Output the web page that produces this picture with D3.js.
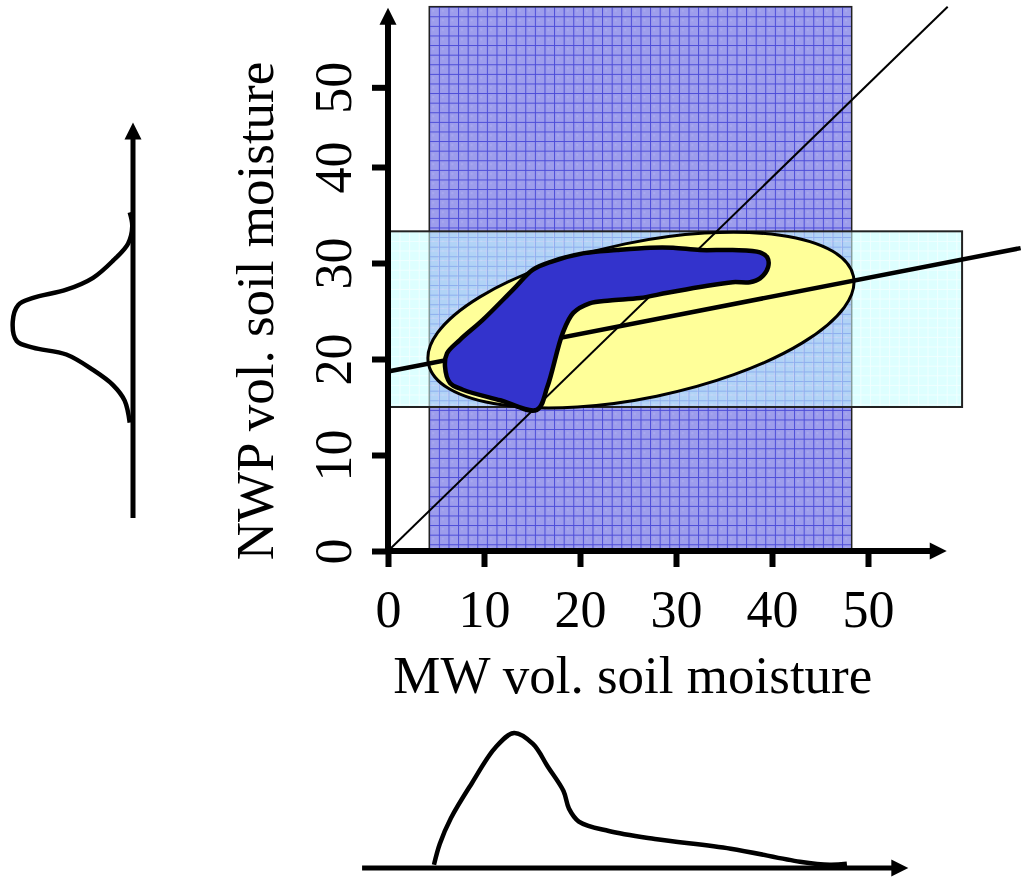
<!DOCTYPE html>
<html>
<head>
<meta charset="utf-8">
<script src="https://cdn.jsdelivr.net/npm/d3@7"></script>
<style>
    body { margin: 0; background: #fff; }
    svg { display: block; }
</style>
</head>
<body>
<div id="chart"></div>
<script>
let width = 1021, height = 879;
let serif = '"Liberation Serif", "Times New Roman", serif';

// main axes
let xTicks = [0, 10, 20, 30, 40, 50];
let yTickVals = [0, 10, 20, 30, 40, 48.3];
let yTickLabels = ['0', '10', '20', '30', '40', '50'];
let xAxisEnd = 58.2;
let yAxisEnd = 56.6;

// MW range (vertical band) and NWP range (horizontal band)
let mwRange = [4.3, 48.3];
let mwTop = 56.7;
let nwpRange = [15, 33.3];
let nwpX = [0.2, 59.8];

// joint distribution ellipse: centre, semi-axes, tilt (deg)
let ellipseCenter = [26.35, 24.06];
let ellipseAxes = [22.6, 8.1];
let ellipseAngle = 11.65;

// regression line and 1:1 line
let regLine = [[0, 18.7], [65.9, 31.55]];
let oneToOne = [[0, 0], [58.3, 56.7]];

// dark blue joint region (MW, NWP)
let blob = [
    [6.15, 20.6], [5.94, 19.2], [6.46, 17.5], [7.8, 16.8], [11.7, 15.7], [15.5, 14.7],
    [16.6, 17.1], [18.2, 22.7], [19.3, 24.8], [21.0, 25.8], [23.1, 26.1], [26.25, 26.35],
    [29.1, 26.9], [32.5, 27.5], [35.9, 28.0], [37.7, 28.0], [38.75, 28.4], [39.6, 29.6],
    [39.5, 30.6], [38.75, 31.1], [35.9, 31.35], [32.5, 31.35], [29.7, 31.6], [27.3, 31.6],
    [23.85, 31.35], [20.3, 31.0], [16.9, 30.1], [15.1, 29.3], [13.0, 27.2], [9.9, 24.1],
    [7.5, 22.0]
];

// marginal pdfs: [moisture, relative density]
let mwDensity = [
    [4.79, 0.024], [5.39, 0.178], [6.56, 0.37], [8.75, 0.63], [11.15, 0.889], [13.13, 1.0],
    [15.1, 0.919], [16.67, 0.748], [18.28, 0.57], [18.85, 0.44], [19.88, 0.344], [23.0, 0.274],
    [27.8, 0.215], [35.7, 0.143], [42.9, 0.047], [46.0, 0.024], [47.8, 0.031]
];
let mwAxisRange = [-2.7, 54.2];

let nwpDensity = [
    [31.84, 0.027], [30.4, 0.006], [28.57, 0.041], [26.8, 0.165], [25.02, 0.33], [23.78, 0.551],
    [22.92, 0.826], [22.19, 0.948], [20.42, 0.994], [18.44, 0.961], [17.74, 0.826], [17.03, 0.551],
    [15.42, 0.33], [13.85, 0.165], [12.23, 0.069], [9.93, 0.027]
];
let nwpAxisRange = [0, 41.2];

let svg = d3.select('#chart').append('svg').attr('width', width).attr('height', height);

let x = d3.scaleLinear().domain([0, 50]).range([388, 868]);
let y = d3.scaleLinear().domain([0, 50]).range([551, 71]);

// marginal scales
let bDens = d3.scaleLinear().domain([0, 1]).range([868, 733]);
let lY = d3.scaleLinear().domain([0, 41.25]).range([518, 122]);
let lDens = d3.scaleLinear().domain([0, 1]).range([133, 12]);

// hatch patterns
let cell = x(1) - x(0);
let defs = svg.append('defs');
let pBlue = defs.append('pattern')
    .attr('id', 'gridBlue')
    .attr('patternUnits', 'userSpaceOnUse')
    .attr('x', x(mwRange[0])).attr('y', y(mwTop))
    .attr('width', cell).attr('height', cell);
pBlue.append('rect').attr('width', cell).attr('height', cell).attr('fill', '#9d9dec');
pBlue.append('rect').attr('x', 3).attr('y', 3).attr('width', 2).attr('height', 2).attr('fill', '#a9a9f0');
pBlue.append('path')
    .attr('d', 'M0,0.5H' + cell + 'M0.5,0V' + cell)
    .attr('stroke', '#4b4bd8').attr('stroke-width', 1);

let pCyan = defs.append('pattern')
    .attr('id', 'gridCyan')
    .attr('patternUnits', 'userSpaceOnUse')
    .attr('x', x(nwpX[0])).attr('y', y(nwpRange[1]))
    .attr('width', cell).attr('height', cell);
pCyan.append('rect').attr('width', cell).attr('height', cell).attr('fill', '#c1ffff');
pCyan.append('path')
    .attr('d', 'M0,0.5H' + cell + 'M0.5,0V' + cell)
    .attr('stroke', '#e4ffff').attr('stroke-width', 1);

// MW band
svg.append('rect')
    .attr('x', x(mwRange[0]))
    .attr('y', y(mwTop))
    .attr('width', x(mwRange[1]) - x(mwRange[0]))
    .attr('height', y(0) - y(mwTop))
    .attr('fill', 'url(#gridBlue)')
    .attr('stroke', '#222')
    .attr('stroke-width', 1.5);

// NWP band
svg.append('rect')
    .attr('x', x(nwpX[0]))
    .attr('y', y(nwpRange[1]))
    .attr('width', x(nwpX[1]) - x(nwpX[0]))
    .attr('height', y(nwpRange[0]) - y(nwpRange[1]))
    .attr('fill', 'url(#gridCyan)')
    .attr('fill-opacity', 0.55)
    .attr('stroke', '#222')
    .attr('stroke-width', 2);

// ellipse
let ecx = x(ellipseCenter[0]), ecy = y(ellipseCenter[1]);
svg.append('ellipse')
    .attr('cx', ecx)
    .attr('cy', ecy)
    .attr('rx', x(ellipseAxes[0]) - x(0))
    .attr('ry', y(0) - y(ellipseAxes[1]))
    .attr('transform', 'rotate(' + (-ellipseAngle) + ',' + ecx + ',' + ecy + ')')
    .attr('fill', '#ffff99')
    .attr('stroke', '#000')
    .attr('stroke-width', 3);

let line = d3.line()
    .x(function(d) { return x(d[0]); })
    .y(function(d) { return y(d[1]); });

svg.append('path').attr('d', line(oneToOne))
    .attr('stroke', '#000').attr('stroke-width', 2).attr('fill', 'none');
svg.append('path').attr('d', line(regLine))
    .attr('stroke', '#000').attr('stroke-width', 4.5).attr('fill', 'none');

// joint region
svg.append('path')
    .attr('d', line.curve(d3.curveCatmullRomClosed.alpha(0.5))(blob))
    .attr('fill', '#3333cc')
    .attr('stroke', '#000')
    .attr('stroke-width', 4.5)
    .attr('stroke-linejoin', 'round');

function arrow(p0, p1, w, head) {
    let dx = p1[0] - p0[0], dy = p1[1] - p0[1];
    let len = Math.hypot(dx, dy), ux = dx / len, uy = dy / len;
    let bx = p1[0] - ux * head, by = p1[1] - uy * head;
    svg.append('line')
        .attr('x1', p0[0]).attr('y1', p0[1])
        .attr('x2', bx + ux).attr('y2', by + uy)
        .attr('stroke', '#000').attr('stroke-width', w);
    svg.append('path')
        .attr('d', 'M' + p1[0] + ',' + p1[1] +
            'L' + (bx - uy * head / 2) + ',' + (by + ux * head / 2) +
            'L' + (bx + uy * head / 2) + ',' + (by - ux * head / 2) + 'Z')
        .attr('fill', '#000');
}

// Label of x axis
let gx = svg.append('g')
    .attr('transform', 'translate(0,' + y(0) + ')')
    .call(d3.axisBottom(x).tickValues(xTicks).tickSize(16).tickSizeOuter(0));
gx.select('.domain').remove();
gx.attr('font-family', serif).attr('font-size', 52);
gx.selectAll('.tick line').attr('stroke', '#000').attr('stroke-width', 6);
gx.selectAll('.tick text').attr('y', 76).attr('dy', null).attr('fill', '#000');

// Label of y axis
let gy = svg.append('g')
    .attr('transform', 'translate(' + x(0) + ',0)')
    .call(d3.axisLeft(y).tickValues(yTickVals).tickSize(16).tickSizeOuter(0)
        .tickFormat(function(d, i) { return yTickLabels[i]; }));
gy.select('.domain').remove();
gy.attr('font-family', serif).attr('font-size', 52);
gy.selectAll('.tick line').attr('stroke', '#000').attr('stroke-width', 6);
gy.selectAll('.tick text')
    .attr('x', 0).attr('y', -37).attr('dy', null)
    .attr('text-anchor', 'middle')
    .attr('transform', 'rotate(-90)')
    .attr('fill', '#000');

arrow([x(0) - 3, y(0)], [x(xAxisEnd), y(0)], 6, 17);
arrow([x(0), y(0) + 3], [x(0), y(yAxisEnd)], 6, 17);

svg.append('text')
    .attr('x', x(25.5)).attr('y', y(0) + 142)
    .attr('text-anchor', 'middle')
    .attr('font-family', serif).attr('font-size', 53)
    .text('MW vol. soil moisture');

svg.append('text')
    .attr('transform', 'translate(273,' + y(25) + ') rotate(-90)')
    .attr('text-anchor', 'middle')
    .attr('font-family', serif).attr('font-size', 53)
    .text('NWP vol. soil moisture');

// bottom marginal (MW)
arrow([x(mwAxisRange[0]), bDens(0)], [x(mwAxisRange[1]), bDens(0)], 5, 17);
svg.append('path')
    .attr('d', d3.line()
        .x(function(d) { return x(d[0]); })
        .y(function(d) { return bDens(d[1]); })
        .curve(d3.curveCatmullRom)(mwDensity))
    .attr('fill', 'none').attr('stroke', '#000').attr('stroke-width', 4.5);

// left marginal (NWP)
arrow([lDens(0), lY(nwpAxisRange[0])], [lDens(0), lY(nwpAxisRange[1])], 5, 17);
svg.append('path')
    .attr('d', d3.line()
        .x(function(d) { return lDens(d[1]); })
        .y(function(d) { return lY(d[0]); })
        .curve(d3.curveCatmullRom)(nwpDensity))
    .attr('fill', 'none').attr('stroke', '#000').attr('stroke-width', 4.5);
</script>
</body>
</html>
